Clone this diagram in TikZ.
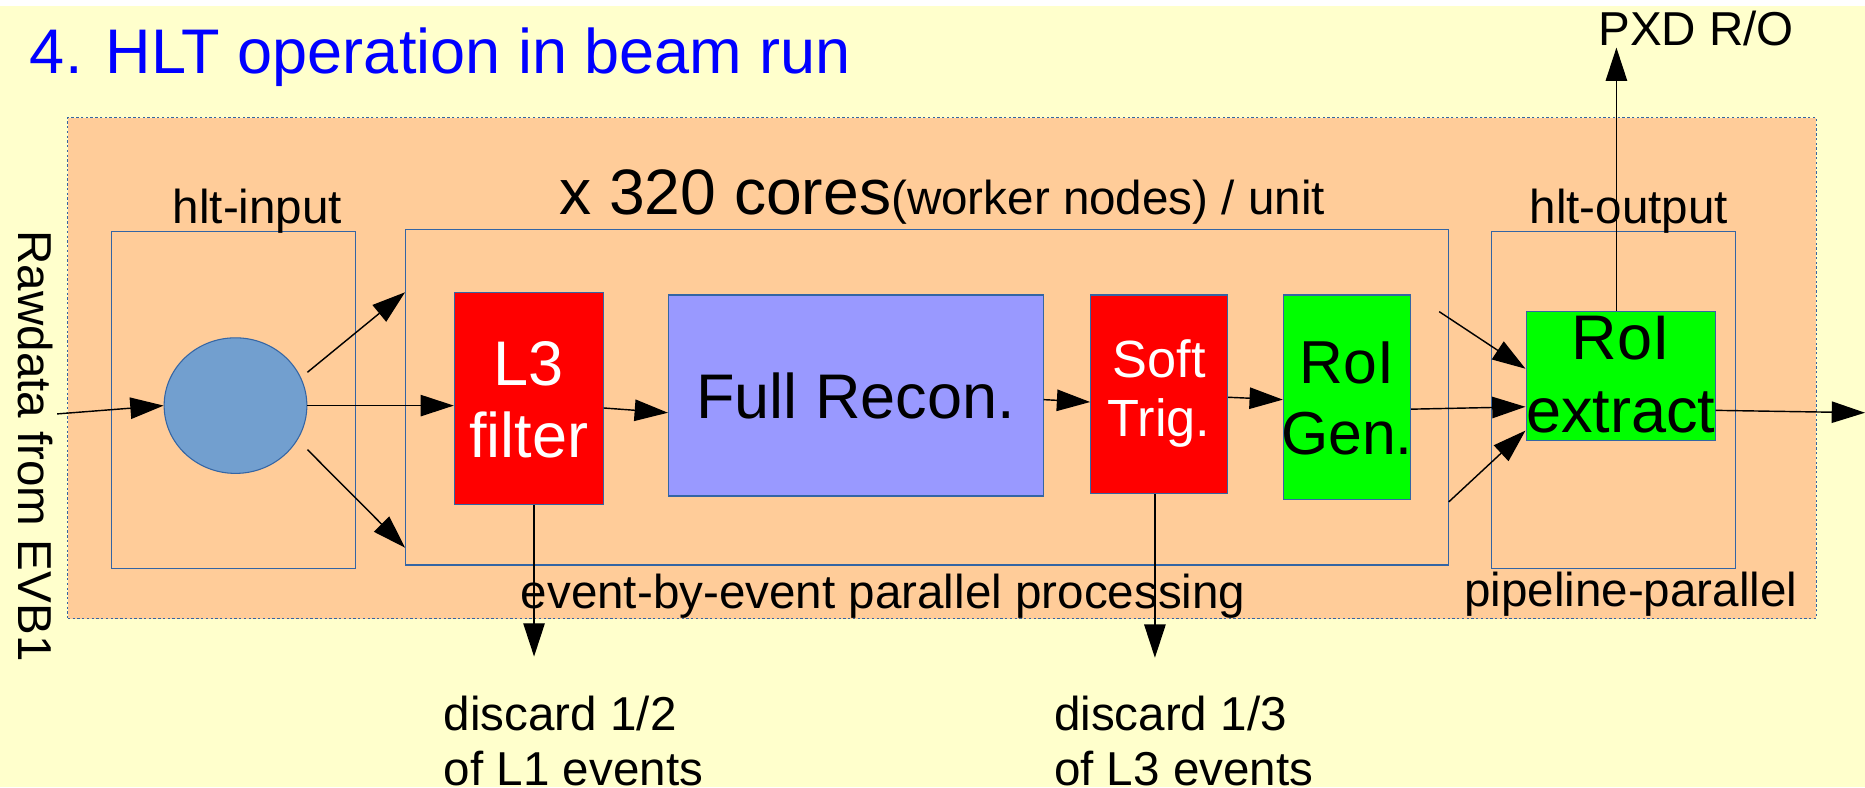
\documentclass[tikz,border=0pt]{standalone}
\usepackage{fontspec}
\setmainfont{Liberation Sans}
\usetikzlibrary{arrows.meta,calc,shapes.geometric}

\definecolor{paper}{HTML}{FFFFCC}
\definecolor{panel}{HTML}{FFCC99}
\definecolor{edge}{HTML}{3465A4}
\definecolor{disc}{HTML}{729FCF}
\definecolor{lav}{HTML}{9999FF}
\definecolor{hot}{HTML}{FF0000}
\definecolor{lime}{HTML}{00FF00}
\definecolor{ttl}{HTML}{0000FF}

\newcommand{\fs}[2]{\fontsize{#1}{#2}\selectfont}

\begin{document}
\begin{tikzpicture}[x=1pt,y=-1pt,
  stage/.style={draw=edge,line width=0.9pt,inner sep=0pt},
  lbl/.style={inner sep=0pt,font=\fs{40}{46}},
  boxtext/.style={inner sep=0pt,align=center},
  flow/.style={-{Triangle[length=28pt,width=18pt]},line width=1.2pt,black}]

\useasboundingbox (0,0) rectangle (1568,662);
\fill[white] (0,0) rectangle (1568,662);
\fill[paper] (0,5) rectangle (1568,662);

% title
\node[inner sep=0pt,anchor=base west,text=ttl,font=\fs{53}{60}] (title) at (25,62) {4. HLT operation in beam run};

% outer dotted unit panel
\node[draw=edge,fill=panel,line width=0.8pt,dash pattern=on 2pt off 2pt,inner sep=0pt,
      minimum width=1470pt,minimum height=421pt] (unit) at (792,309.5) {};

% hlt-input, worker cores, hlt-output
\node[stage,minimum width=205pt,minimum height=283pt] (inbox) at (196.5,336.5) {};
\node[stage,minimum width=877pt,minimum height=282pt] (cores) at (779.5,334) {};
\node[stage,minimum width=205pt,minimum height=283pt] (outbox) at (1356.5,336.5) {};

\node[ellipse,draw=edge,fill=disc,line width=0.9pt,inner sep=0pt,
      minimum width=120pt,minimum height=114pt] (ell) at (198,341) {};

% processing stages
\node[stage,fill=hot,minimum width=125pt,minimum height=178pt] (l3) at (444.5,335) {};
\node[stage,fill=lav,minimum width=315pt,minimum height=169pt] (reco) at (719.5,332.5) {};
\node[stage,fill=hot,minimum width=115pt,minimum height=167pt] (soft) at (974.5,331.5) {};
\node[stage,fill=lime,minimum width=107pt,minimum height=172pt] (gen) at (1132.5,334) {};
\node[stage,fill=lime,minimum width=159pt,minimum height=108pt] (ext) at (1362.5,316) {};

\node[boxtext,text=white,font=\fs{53}{60}] (l3t) at (444.5,336) {L3\\filter};
\node[boxtext,font=\fs{53}{60}] (recot) at (719.5,333) {Full Recon.};
\node[boxtext,text=white,font=\fs{44}{50}] (softt) at (974.5,331) {Soft\\Trig.};
\node[boxtext,font=\fs{51}{59}] (gent) at (1132.5,335) {RoI\\Gen.};
\node[boxtext,font=\fs{53}{62}] (extt) at (1362.5,315) {RoI\\extract};

% labels
\node[lbl,rotate=-90] (raw) at (29.5,375) {Rawdata from EVB1};
\node[lbl,anchor=base] (inlbl) at (216.5,188) {hlt-input};
\node[inner sep=0pt,anchor=base west] (corelbl) at (470,180)
  {{\fs{54}{60}x 320 cores}{\fs{40}{46}(worker nodes) / unit}};
\node[lbl,anchor=base] (outlbl) at (1369.5,188) {hlt-output};
\node[lbl,anchor=base] (pxd) at (1426,38) {PXD R/O};
\node[lbl,anchor=base] (ebe) at (742.5,512) {event-by-event parallel processing};
\node[lbl,anchor=base] (pipe) at (1371,510) {pipeline-parallel};
\node[lbl,anchor=base west] (dA1) at (373,614) {discard 1/2};
\node[lbl,anchor=base west] (dA2) at (373,660) {of L1 events};
\node[lbl,anchor=base west] (dB1) at (886,614) {discard 1/3};
\node[lbl,anchor=base west] (dB2) at (886,660) {of L3 events};

% free ends
\coordinate (src) at (48,348);
\coordinate (sink) at (1568,347);
\coordinate (ro) at (1359,40);
\coordinate (dropA) at (449,552);
\coordinate (dropB) at (971,553);
\coordinate (tapU) at (1210,262);
\coordinate (tapL) at (1218,422);

% connectors
\draw[flow] (src) -- (ell.west);
\draw[flow] (ell.east |- 0,313) -- ($(cores.north west)!0.188!(cores.south west)$);
\draw[flow] (ell.east) -- (l3.west |- ell.east);
\draw[flow] (ell.east |- 0,378) -- ($(cores.north west)!0.947!(cores.south west)$);
\draw[flow] (l3.east |- 0,343) -- (reco.west |- 0,347);
\draw[flow] (reco.east |- 0,336) -- (soft.west |- 0,338);
\draw[flow] (soft.east |- 0,334) -- (gen.west |- 0,336);
\draw[flow] (gen.east |- 0,344) -- (ext.west |- 0,342);
\draw[flow] (tapU) -- (ext.west |- 0,310);
\draw[flow] (tapL) -- (ext.west |- 0,362);
\draw[flow] (ext.east |- 0,345) -- (sink);
\draw[flow] (ext.north -| ro) -- (ro);
\draw[flow] (l3.south -| dropA) -- (dropA);
\draw[flow] (soft.south -| dropB) -- (dropB);

\end{tikzpicture}
\end{document}
